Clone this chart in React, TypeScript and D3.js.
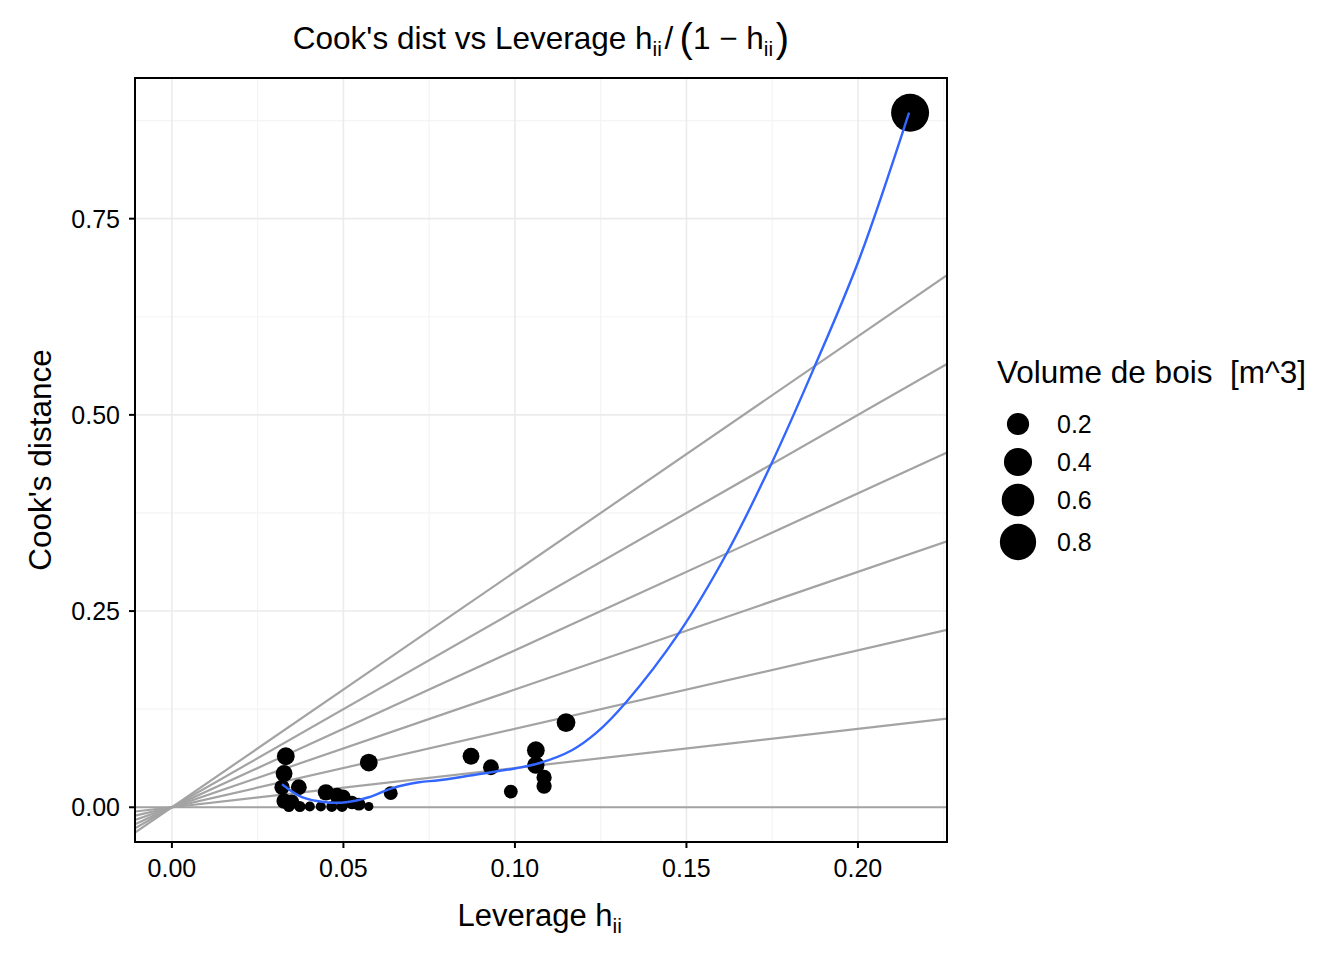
import React from "react";
import * as d3 from "d3";

const leverage = [
  0.0332, 0.0327, 0.0321, 0.0327, 0.037, 0.035, 0.0341, 0.0373, 0.0402, 0.0434,
  0.0466, 0.0496, 0.0574, 0.0449, 0.0481, 0.0499, 0.0525, 0.0545, 0.0574, 0.0638,
  0.0872, 0.093, 0.0988, 0.1061, 0.1061, 0.1085, 0.1085, 0.1149, 0.2152,
];
const cooks = [
  0.065, 0.043, 0.0255, 0.008, 0.0255, 0.007, 0.001, 0.001, 0.001, 0.001,
  0.001, 0.001, 0.001, 0.019, 0.015, 0.013, 0.006, 0.004, 0.057, 0.018,
  0.065, 0.051, 0.02, 0.0727, 0.0536, 0.038, 0.027, 0.108, 0.885,
];
const volume = [
  0.099, 0.083, 0.06, 0.06, 0.068, 0.05, 0.025, 0.025, 0.022, 0.022,
  0.024, 0.024, 0.021, 0.075, 0.06, 0.06, 0.04, 0.036, 0.099, 0.044,
  0.083, 0.068, 0.044, 0.099, 0.09, 0.06, 0.06, 0.118, 0.9,
];

// loess smooth
const smoothX = [
  0.0321, 0.0379, 0.0449, 0.0507, 0.0574, 0.0641, 0.072, 0.0778, 0.0875, 0.1003,
  0.107, 0.1166, 0.1236, 0.1324, 0.1478, 0.1618, 0.1746, 0.1872, 0.2003, 0.2149,
];
const smoothY = [
  0.0293, 0.0128, 0.0064, 0.0064, 0.0128, 0.0242, 0.0319, 0.0344, 0.0408, 0.0497,
  0.0561, 0.0727, 0.0944, 0.1339, 0.2219, 0.324, 0.4362, 0.5599, 0.6977, 0.8852,
];

// reference lines through the origin
const slopes = [0, 0.5, 1, 1.5, 2, 2.5, 3];

const xTicks = [0, 0.05, 0.1, 0.15, 0.2];
const yTicks = [0, 0.25, 0.5, 0.75];
const legendValues = [0.2, 0.4, 0.6, 0.8];

const W = 1344;
const H = 960;
const panel = { left: 135, right: 947, top: 78, bottom: 842 };
const font = "'Liberation Sans', Arial, Helvetica, sans-serif";

// ggplot style: include 0, expand 5%
const expand = (lo: number, hi: number) => {
  const pad = (hi - lo) * 0.05;
  return [lo - pad, hi + pad];
};

const App: React.FC = () => {
  const xMax = d3.max(leverage) as number;
  const yMax = d3.max(cooks) as number;
  const x = d3.scaleLinear().domain(expand(0, xMax)).range([panel.left, panel.right]);
  const y = d3.scaleLinear().domain(expand(0, yMax)).range([panel.bottom, panel.top]);

  const vExt = d3.extent(volume) as [number, number];
  const t = d3.scaleLinear().domain(vExt).range([0, 1]).clamp(true);
  const rad = d3.scaleLinear().domain([0, 1]).range([4.6, 19]);
  const r = (v: number) => rad(Math.sqrt(t(v)));

  const [x0, x1] = x.domain();
  const xMinor = [0.025, 0.075, 0.125, 0.175, 0.225].filter((v) => v >= x0 && v <= x1);
  const yMinor = [0.125, 0.375, 0.625, 0.875];

  const line = d3
    .line<number>()
    .x((_, i) => x(smoothX[i]))
    .y((_, i) => y(smoothY[i]))
    .curve(d3.curveCatmullRom.alpha(0.5));

  const sub = (s: string, size: number, dy: number) => (
    <>
      <tspan fontSize={size} dy={dy}>{s}</tspan>
      <tspan dy={-dy}>{"\u200A"}</tspan>
    </>
  );

  return (
    <div style={{ position: "absolute", left: 0, top: 0 }}>
      <svg width={W} height={H} style={{ display: "block", background: "#fff" }} fontFamily={font}>
        <defs>
          <clipPath id="panel-clip">
            <rect x={panel.left} y={panel.top} width={panel.right - panel.left} height={panel.bottom - panel.top} />
          </clipPath>
        </defs>

        {/* grid */}
        <g>
          {xMinor.map((v) => (
            <line key={"xm" + v} x1={x(v)} x2={x(v)} y1={panel.top} y2={panel.bottom} stroke="#F4F4F4" strokeWidth={1.2} />
          ))}
          {yMinor.map((v) => (
            <line key={"ym" + v} y1={y(v)} y2={y(v)} x1={panel.left} x2={panel.right} stroke="#F4F4F4" strokeWidth={1.2} />
          ))}
          {xTicks.map((v) => (
            <line key={"xg" + v} x1={x(v)} x2={x(v)} y1={panel.top} y2={panel.bottom} stroke="#EBEBEB" strokeWidth={1.6} />
          ))}
          {yTicks.map((v) => (
            <line key={"yg" + v} y1={y(v)} y2={y(v)} x1={panel.left} x2={panel.right} stroke="#EBEBEB" strokeWidth={1.6} />
          ))}
        </g>

        <g clipPath="url(#panel-clip)">
          {slopes.map((s) => (
            <line key={"ab" + s} x1={x(x0)} y1={y(s * x0)} x2={x(x1)} y2={y(s * x1)} stroke="#A3A3A3" strokeWidth={2.2} />
          ))}
          {leverage.map((lv, i) => (
            <circle key={"p" + i} cx={x(lv)} cy={y(cooks[i])} r={r(volume[i])} fill="#000" />
          ))}
          <path d={line(smoothX) || ""} fill="none" stroke="#3366FF" strokeWidth={2.4} />
        </g>

        <rect
          x={panel.left}
          y={panel.top}
          width={panel.right - panel.left}
          height={panel.bottom - panel.top}
          fill="none"
          stroke="#000"
          strokeWidth={2}
        />

        {/* x axis */}
        {xTicks.map((v) => (
          <g key={"xt" + v}>
            <line x1={x(v)} x2={x(v)} y1={panel.bottom} y2={panel.bottom + 6} stroke="#000" strokeWidth={2} />
            <text x={x(v)} y={877} textAnchor="middle" fontSize={25}>
              {d3.format(".2f")(v)}
            </text>
          </g>
        ))}
        {/* y axis */}
        {yTicks.map((v) => (
          <g key={"yt" + v}>
            <line x1={panel.left - 6} x2={panel.left} y1={y(v)} y2={y(v)} stroke="#000" strokeWidth={2} />
            <text x={120} y={y(v) + 9} textAnchor="end" fontSize={25}>
              {d3.format(".2f")(v)}
            </text>
          </g>
        ))}

        <text x={(panel.left + panel.right) / 2} y={926} textAnchor="middle" fontSize={31}>
          Leverage h{sub("ii", 21, 7)}
        </text>
        <text transform={`translate(51, ${(panel.top + panel.bottom) / 2}) rotate(-90)`} textAnchor="middle" fontSize={31.5}>
          Cook's distance
        </text>

        {/* title */}
        <text x={(panel.left + panel.right) / 2} y={49} textAnchor="middle" fontSize={31.5}>
          Cook's dist vs Leverage h{sub("ii", 21, 7)}/{"\u2009"}
          <tspan fontSize={40} dy={3}>(</tspan>
          <tspan dy={-3}>1 − h</tspan>
          {sub("ii", 21, 7)}
          <tspan fontSize={40} dy={3}>)</tspan>
        </text>

        {/* legend */}
        <text x={997} y={383} fontSize={31.5}>
          Volume de bois{"\u00A0\u00A0"}[m^3]
        </text>
        {legendValues.map((v, i) => {
          const cy = [424, 462, 500, 542][i];
          return (
            <g key={"lg" + v}>
              <circle cx={1018} cy={cy} r={r(v)} fill="#000" />
              <text x={1057} y={cy + 9} fontSize={25}>
                {v.toFixed(1)}
              </text>
            </g>
          );
        })}
      </svg>
    </div>
  );
};

export default App;
